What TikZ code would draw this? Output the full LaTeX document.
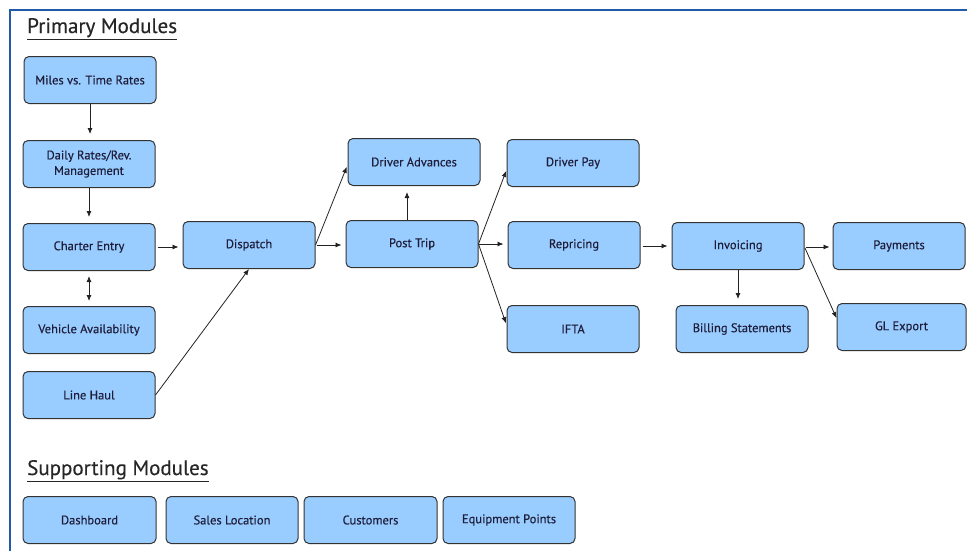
\documentclass[tikz,border=0pt]{standalone}
\usepackage{fontspec}
\setmainfont{PT Sans}
\newfontfamily\boxfont[FakeBold=0.35]{PT Sans}
\usetikzlibrary{arrows.meta,calc}
\definecolor{boxfill}{HTML}{99CCFF}
\definecolor{boxline}{HTML}{333333}
\definecolor{txt}{HTML}{1E1E3A}
\definecolor{frameblue}{HTML}{1F5BA8}
\definecolor{arrline}{HTML}{222222}
\tikzset{
  modbox/.style={draw=boxline, fill=boxfill, rounded corners=5pt, line width=1pt,
    minimum width=132pt, minimum height=47pt, inner sep=0pt, align=center,
    font=\boxfont\fontsize{12.5}{15.5}\selectfont, text=txt},
  arr/.style={draw=arrline, line width=0.8pt, -{Latex[length=6pt,width=5pt]}},
  darr/.style={draw=arrline, line width=0.8pt, {Latex[length=6pt,width=5pt]}-{Latex[length=6pt,width=5pt]}},
  sectitle/.style={anchor=base west, inner sep=0pt, font=\boxfont\fontsize{21}{24}\selectfont, text=black!85}
}
\begin{document}
\begin{tikzpicture}[x=1pt,y=-1pt]
\useasboundingbox (0,0) rectangle (967,550);
\draw[frameblue, line width=2.2pt] (10,551) -- (10,10) -- (968,10);

\node[sectitle] (t1) at (27,33) {\underline{Primary Modules}};
\node[sectitle] (t2) at (27,475) {\underline{Supporting Modules}};

\node[modbox] (mvt)  at (90,80)   {Miles vs. Time Rates};
\node[modbox] (drm)  at (89,164)  {Daily Rates/Rev.\\Management};
\node[modbox] (ce)   at (89,247)  {Charter Entry};
\node[modbox] (va)   at (89,330)  {Vehicle Availability};
\node[modbox] (lh)   at (89,395)  {Line Haul};
\node[modbox] (disp) at (249,245) {Dispatch};
\node[modbox] (dadv) at (414,162) {Driver Advances};
\node[modbox] (pt)   at (412,244) {Post Trip};
\node[modbox] (dpay) at (573,163) {Driver Pay};
\node[modbox] (rep)  at (574,245) {Repricing};
\node[modbox] (ifta) at (573,329) {IFTA};
\node[modbox] (inv)  at (738,246) {Invoicing};
\node[modbox] (bill) at (742,329) {Billing Statements};
\node[modbox] (pay)  at (899,246) {Payments};
\node[modbox, minimum width=129pt] (gl) at (901.5,327) {GL Export};

\node[modbox, minimum width=133pt] (dash) at (89.5,520) {Dashboard};
\node[modbox] (sales) at (232,520) {Sales Location};
\node[modbox, minimum width=133pt] (cust)  at (370.5,520) {Customers};
\node[modbox] (equip) at (509,520) {Equipment Points};

\draw[arr, shorten >=6pt] (mvt.south) -- (mvt.south |- drm.north);
\draw[arr, shorten >=6pt] (drm.south) -- (drm.south |- ce.north);
\draw[darr, shorten >=5pt, shorten <=5pt] (ce.south) -- (ce.south |- va.north);
\draw[arr, shorten <=2pt, shorten >=4pt] (ce.east) -- (ce.east -| disp.west);
\draw[arr] (lh.east) -- (disp.south);
\draw[arr, shorten >=2pt] (disp.east) -- ([yshift=-3pt]dadv.west);
\draw[arr, shorten <=1pt, shorten >=4pt] (disp.east) -- (disp.east -| pt.west);
\draw[arr, shorten >=6pt] ([xshift=-5pt]pt.north) -- ([xshift=-5pt]pt.north |- dadv.south);
\draw[arr, shorten >=1pt] (pt.east) -- ([yshift=-7pt]dpay.west);
\draw[arr, shorten >=4pt] (pt.east) -- (pt.east -| rep.west);
\draw[arr, shorten >=2pt] (pt.east) -- ([yshift=4pt]ifta.west);
\draw[arr, shorten <=2pt, shorten >=4pt] ([yshift=-1pt]rep.east) -- ([yshift=-1pt]rep.east -| inv.west);
\draw[arr, shorten >=6pt] (inv.south) -- (inv.south |- bill.north);
\draw[arr, shorten <=1pt, shorten >=3pt] ([yshift=-1pt]inv.east) -- ([yshift=-1pt]inv.east -| pay.west);
\draw[arr, shorten <=1pt] ([yshift=-1pt]inv.east) -- ([yshift=9pt]gl.west);
\end{tikzpicture}
\end{document}
